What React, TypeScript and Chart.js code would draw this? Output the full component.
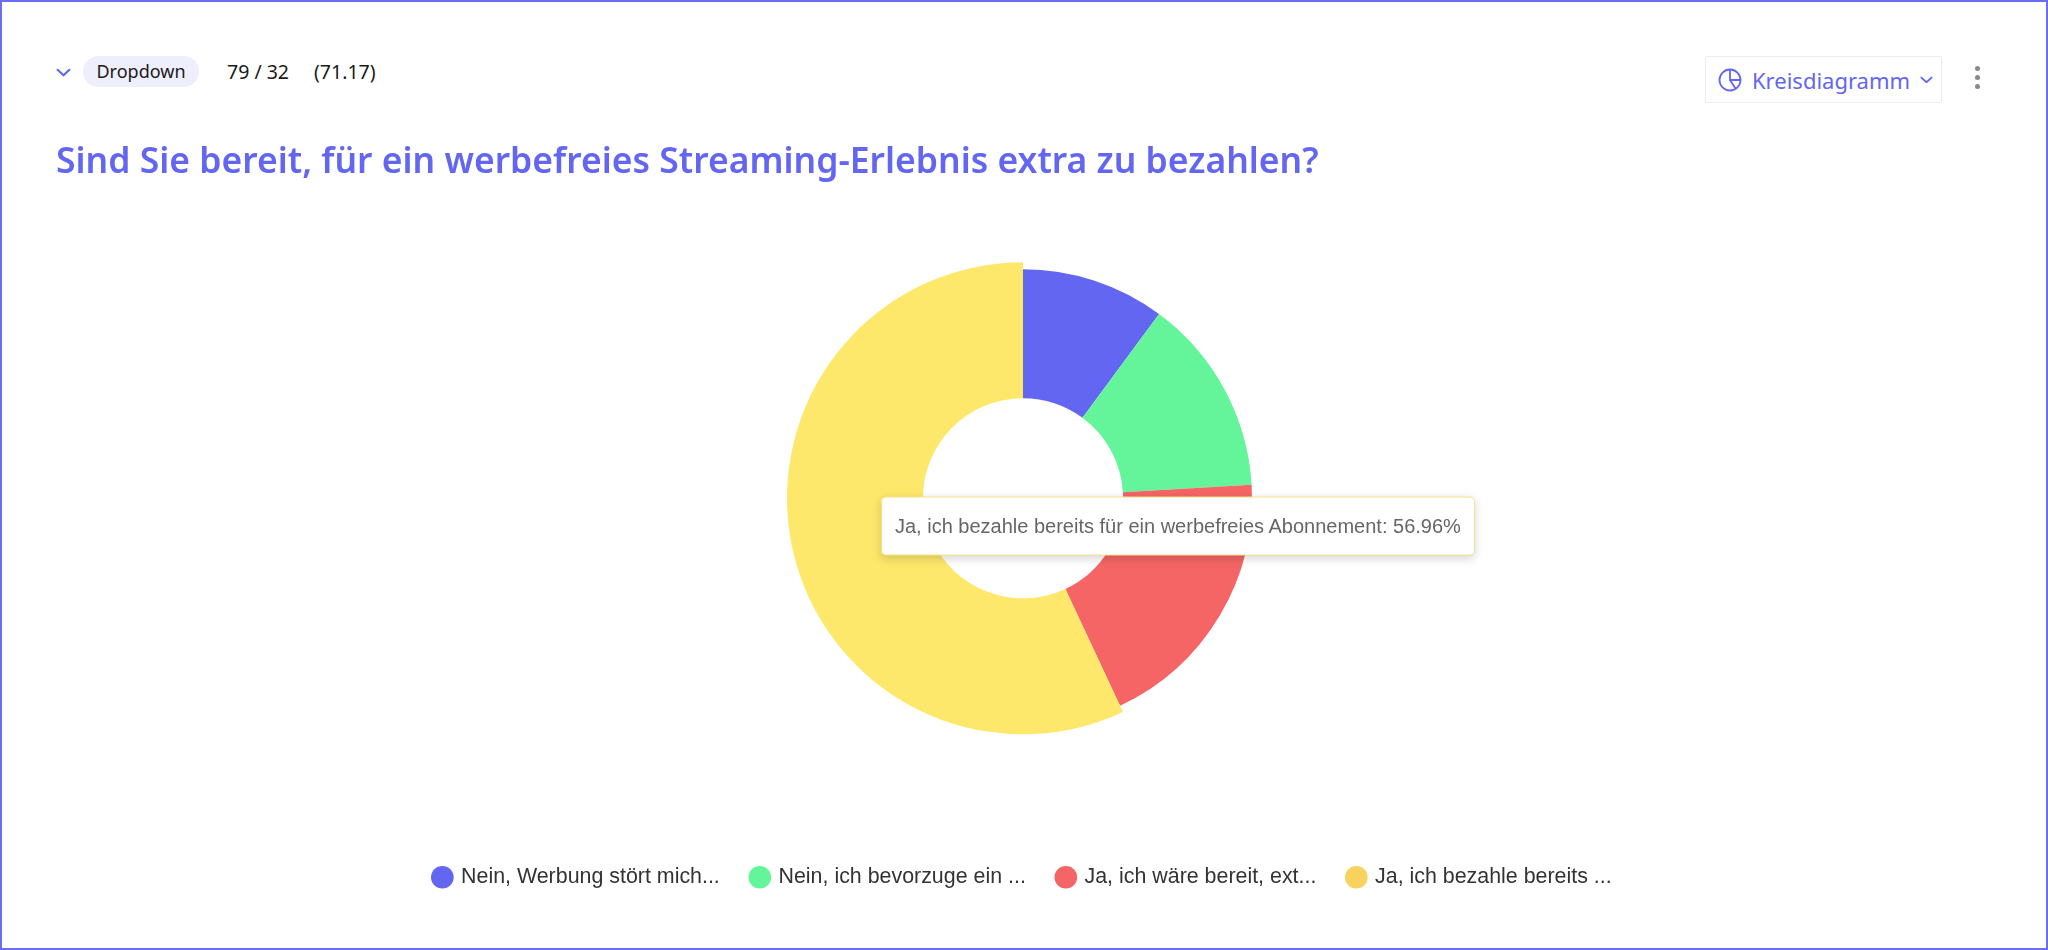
import React, { useEffect, useRef } from "react";
import { Chart, registerables, Plugin } from "chart.js";

Chart.register(...registerables);

const answers = [
  "Nein, Werbung stört mich nicht",
  "Nein, ich bevorzuge ein kostenloses Angebot",
  "Ja, ich wäre bereit, extra zu zahlen",
  "Ja, ich bezahle bereits für ein werbefreies Abonnement",
];
const counts = [8, 11, 15, 45];
const sliceColors = ["#6366f1", "#64f59b", "#f56565", "#f6d35f"];
const hoverColors = ["#6366f1", "#64f59b", "#f56565", "#fde86b"];
const activeIndex = 3;

const shorten = (s: string) => (s.length > 24 ? s.slice(0, 24) + "..." : s);

// hovered slice gets a slightly bigger outer radius, like in the source app
const hoverGrow: Plugin<"doughnut"> = {
  id: "hoverGrow",
  afterDatasetsUpdate(chart) {
    chart.getActiveElements().forEach(({ element }) => {
      (element as any).outerRadius += 7;
    });
  },
};

const PieIcon = () => (
  <svg width="24" height="24" viewBox="0 0 24 24" fill="none" stroke="#6366f1" strokeWidth="1.8">
    <circle cx="12" cy="12" r="10.5" />
    <path d="M12 1.5V12H22.5M12 12l5.5 8.5" />
  </svg>
);

const Chevron = ({ color = "#6366f1", w = 14 }) => (
  <svg
    width={w}
    height={w * 0.6}
    viewBox="0 0 14 8"
    fill="none"
    stroke={color}
    strokeWidth="2"
    strokeLinecap="round"
    style={{ display: "block" }}
  >
    <path d="M1.5 1.5L7 6.5l5.5-5" />
  </svg>
);

const DoughnutChart: React.FC = () => {
  const canvasRef = useRef<HTMLCanvasElement | null>(null);
  const tipRef = useRef<HTMLDivElement | null>(null);
  const chartRef = useRef<Chart<"doughnut"> | null>(null);

  useEffect(() => {
    if (!canvasRef.current) return;
    const total = counts.reduce((a, b) => a + b, 0);

    const chart = new Chart(canvasRef.current, {
      type: "doughnut",
      data: {
        labels: answers,
        datasets: [
          {
            data: counts,
            backgroundColor: sliceColors,
            hoverBackgroundColor: hoverColors,
            borderWidth: 0,
            hoverOffset: 0,
            clip: false as any,
          },
        ],
      },
      options: {
        animation: false,
        responsive: true,
        maintainAspectRatio: false,
        events: [],
        radius: 229,
        cutout: "43.7%",
        layout: { padding: 0 },
        plugins: {
          legend: {
            position: "bottom",
            labels: {
              usePointStyle: true,
              boxWidth: 16,
              boxHeight: 16,
              padding: 32,
              color: "#333",
              font: { family: "'Liberation Sans', Arial, Helvetica, sans-serif", size: 21.4 },
              generateLabels: (c) =>
                Chart.overrides.doughnut.plugins.legend.labels
                  .generateLabels(c)
                  .map((item) => ({ ...item, text: shorten(item.text) })),
            },
          },
          tooltip: {
            enabled: false,
            callbacks: {
              label: (ctx) =>
                `${ctx.label}: ${((Number(ctx.raw) / total) * 100).toFixed(2)}%`,
            },
            external: ({ tooltip }) => {
              const el = tipRef.current;
              if (!el) return;
              if (tooltip.opacity === 0) {
                el.style.display = "none";
                return;
              }
              el.textContent = tooltip.body.flatMap((b) => b.lines).join(" ");
              el.style.display = "block";
              el.style.left = tooltip.caretX + 22 + "px";
              el.style.top = tooltip.caretY - 9 + "px";
            },
          },
        },
      },
      plugins: [hoverGrow],
    });
    chartRef.current = chart;

    const active = [{ datasetIndex: 0, index: activeIndex }];
    chart.setActiveElements(active);
    chart.update();
    chart.tooltip?.setActiveElements(active, { x: 0, y: 0 });

    return () => chartRef.current?.destroy();
  }, []);

  return (
    <div style={{ position: "absolute", left: 54, top: 160, width: 1934, height: 736 }}>
      <canvas ref={canvasRef} style={{ width: "100%", height: "100%" }} />
      <div
        ref={tipRef}
        style={{
          position: "absolute",
          display: "none",
          transform: "translateY(-50%)",
          background: "#fff",
          border: "1px solid #f8e08a",
          borderRadius: 5,
          boxShadow: "0 3px 10px rgba(0,0,0,0.16)",
          padding: "0 13px",
          height: 57,
          lineHeight: "57px",
          whiteSpace: "nowrap",
          color: "#666",
          fontFamily: "'Liberation Sans', Arial, Helvetica, sans-serif",
          fontSize: 20,
          pointerEvents: "none",
        }}
      />
    </div>
  );
};

const App: React.FC = () => {
  const ui = "'Noto Sans', 'Open Sans', sans-serif";
  return (
    <div
      style={{
        position: "fixed",
        inset: 0,
        border: "2px solid #6b6ef5",
        boxSizing: "border-box",
        background: "#fff",
        fontFamily: ui,
      }}
    >
      <div style={{ position: "absolute", left: 54, top: 66 }}>
        <Chevron w={15} />
      </div>
      <div
        style={{
          position: "absolute",
          left: 81,
          top: 54,
          width: 116,
          height: 31,
          borderRadius: 16,
          background: "#eeeefd",
          color: "#1a1a1a",
          fontSize: 18,
          lineHeight: "31px",
          textAlign: "center",
        }}
      >
        Dropdown
      </div>
      <div style={{ position: "absolute", left: 225, top: 54, lineHeight: "31px", fontSize: 19.5, color: "#1a1a1a" }}>
        79 / 32
      </div>
      <div style={{ position: "absolute", left: 312, top: 54, lineHeight: "31px", fontSize: 19.5, color: "#1a1a1a" }}>
        (71.17)
      </div>

      <div
        style={{
          position: "absolute",
          left: 54,
          top: 139,
          fontSize: 35.5,
          lineHeight: "36px",
          fontWeight: 600,
          color: "#6366f1",
          whiteSpace: "nowrap",
          zIndex: 2,
        }}
      >
        Sind Sie bereit, für ein werbefreies Streaming-Erlebnis extra zu bezahlen?
      </div>

      <div
        style={{
          position: "absolute",
          left: 1703,
          top: 54,
          width: 237,
          height: 47,
          boxSizing: "border-box",
          border: "1px solid #ececec",
          borderRadius: 2,
          display: "flex",
          alignItems: "center",
          paddingLeft: 12,
          color: "#6366f1",
          fontSize: 22,
          gap: 10,
        }}
      >
        <PieIcon />
        <span>Kreisdiagramm</span>
        <span style={{ marginLeft: 0, display: "flex" }}>
          <Chevron w={13} />
        </span>
      </div>
      <div style={{ position: "absolute", left: 1973, top: 64 }}>
        {[0, 1, 2].map((i) => (
          <div key={i} style={{ width: 5, height: 5, borderRadius: 3, background: "#888", marginBottom: 4 }} />
        ))}
      </div>

      <DoughnutChart />
    </div>
  );
};

export default App;
